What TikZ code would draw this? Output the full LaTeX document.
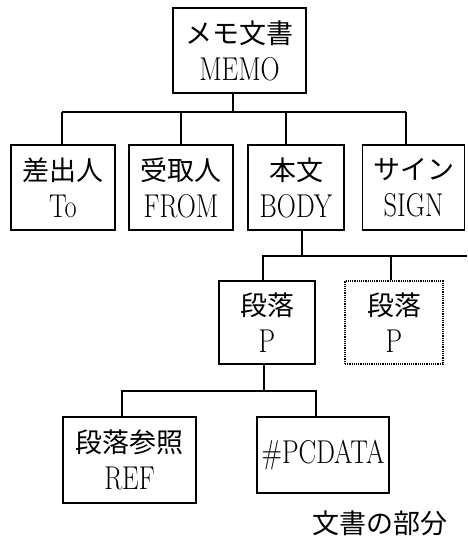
\documentclass[tikz,border=0pt]{standalone}
\usepackage{fontspec}
\setmainfont{Latin Modern Roman}[FakeStretch=0.8]
\newfontfamily\jpfont{Noto Sans CJK JP}
\newcommand\jpt[1]{{\jpfont\fontsize{27}{37}\selectfont #1}}
\begin{document}
\begin{tikzpicture}[x=1pt,y=-1pt,
  box/.style={draw, line width=1.6pt, inner sep=0pt, align=center,
    font=\fontsize{33}{37}\selectfont},
  conn/.style={line width=1.6pt}]
\useasboundingbox (0,0) rectangle (467,538);
% nodes
\node[box, minimum width=133pt, minimum height=85pt] (memo) at (239.5,50.5) {\jpt{メモ文書}\\MEMO};
\node[box, minimum width=104pt, minimum height=85pt] (to) at (63,187.5) {\jpt{差出人}\\To};
\node[box, minimum width=104pt, minimum height=85pt] (from) at (181,187.5) {\jpt{受取人}\\FROM};
\node[box, minimum width=96pt, minimum height=85pt] (body) at (296,187.5) {\jpt{本文}\\BODY};
\node[box, minimum width=102pt, minimum height=85pt] (sign) at (413.5,187.5) {\jpt{サイン}\\SIGN};
\node[box, minimum width=96pt, minimum height=83pt] (p) at (267,322.5) {\jpt{段落}\\P};
\node[box, dash pattern=on 1.2pt off 1pt, minimum width=98pt, minimum height=83pt] (p2) at (394,322.5) {\jpt{段落}\\P};
\node[box, minimum width=133pt, minimum height=86pt] (ref) at (129.5,460) {\jpt{段落参照}\\REF};
\node[box, minimum width=132pt, minimum height=76pt] (pc) at (323,455) {\#PCDATA};
\node[inner sep=0pt] (cap) at (380,523) {\jpt{文書の部分}};
% connectors
\coordinate (bus1L) at (62,112);
\coordinate (bus1R) at (406,112);
\coordinate (bus2R) at (467,256);
\coordinate (bus3) at (264,391);
\draw[conn] (bus1L) -- (bus1R);
\draw[conn] ([xshift=-6.5pt]memo.south) -- ([xshift=-6.5pt]memo.south |- bus1L);
\draw[conn] ([xshift=-1pt]to.north) -- ([xshift=-1pt]to.north |- bus1L);
\draw[conn] (from.north) -- (from.north |- bus1L);
\draw[conn] ([xshift=-10pt]body.north) -- ([xshift=-10pt]body.north |- bus1L);
\draw[conn] ([xshift=-7.5pt]sign.north) -- ([xshift=-7.5pt]sign.north |- bus1R);
\draw[conn] ([xshift=-4pt]p.north) |- (bus2R);
\draw[conn] ([xshift=6pt]body.south) -- ([xshift=6pt]body.south |- bus2R);
\draw[conn] ([xshift=-3pt]p2.north) -- ([xshift=-3pt]p2.north |- bus2R);
\draw[conn] ([xshift=-3pt]p.south) -- ([xshift=-3pt]p.south |- bus3);
\draw[conn] ([xshift=-7.5pt]ref.north) |- (bus3) -| ([xshift=-7pt]pc.north);
\end{tikzpicture}
\end{document}
